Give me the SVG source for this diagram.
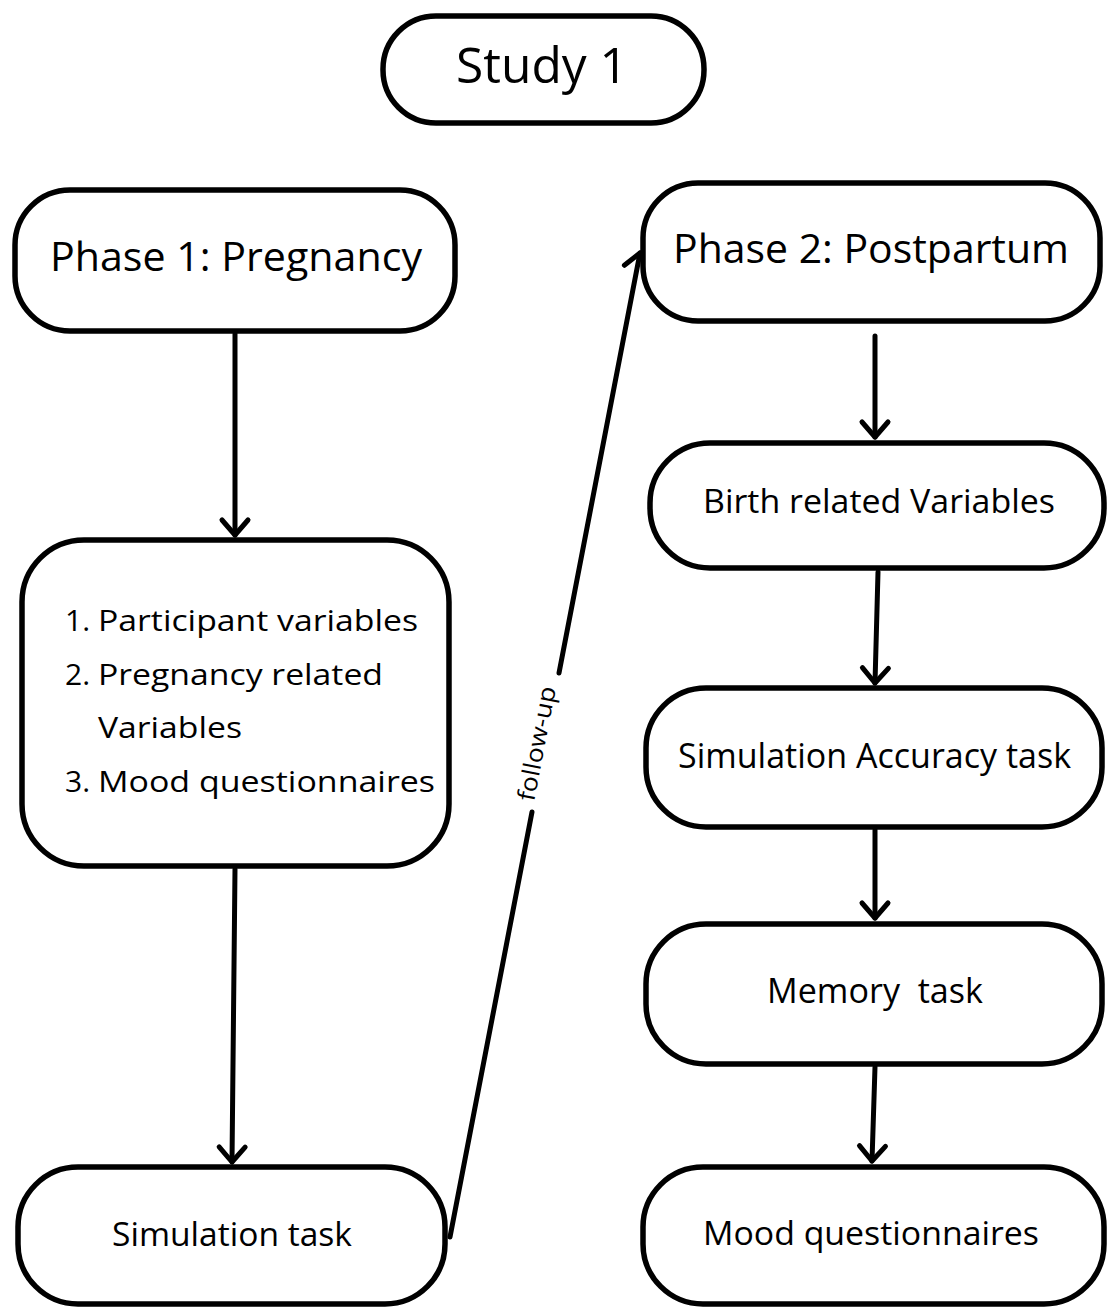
<svg xmlns="http://www.w3.org/2000/svg" width="1108" height="1309" viewBox="0 0 1108 1309">
<style>
  .box { fill: #ffffff; stroke: #000000; stroke-width: 5.5; }
  .lbl { font-family: "Open Sans", "Noto Sans", "DejaVu Sans", sans-serif; fill: #000000; }
  .c { text-anchor: middle; }
  .conn { fill: none; stroke: #000000; stroke-width: 5; stroke-linecap: round; }
</style>
<defs>
  <marker id="chev" markerUnits="userSpaceOnUse" viewBox="-20 -20 40 40" markerWidth="40" markerHeight="40" refX="0" refY="0" orient="auto" overflow="visible">
    <path d="M -15 -13 L 0 0 L -15 13" fill="none" stroke="#000000" stroke-width="5" stroke-linecap="round" stroke-linejoin="round"/>
  </marker>
</defs>
<rect width="1108" height="1309" fill="#ffffff"/>
<g id="connectors">
  <path class="conn" d="M 235 334 L 235 535" marker-end="url(#chev)"/>
  <path class="conn" d="M 235 869 L 232 1162" marker-end="url(#chev)"/>
  <path class="conn" d="M 450 1237 L 532 812"/>
  <path class="conn" d="M 559 673 L 640 253" marker-end="url(#chev)"/>
  <path class="conn" d="M 875 336 L 875 437" marker-end="url(#chev)"/>
  <path class="conn" d="M 878 572 L 875 683" marker-end="url(#chev)"/>
  <path class="conn" d="M 875 830 L 875 918" marker-end="url(#chev)"/>
  <path class="conn" d="M 875 1067 L 872 1161" marker-end="url(#chev)"/>
  <text class="lbl c" x="545" y="745" font-size="24" textLength="116" lengthAdjust="spacingAndGlyphs" transform="rotate(-79.07 545 745)">follow-up</text>
</g>
<g id="study1">
  <rect class="box" x="383" y="16" width="321" height="107" rx="53" ry="53"/>
  <text class="lbl c" x="542" y="83" font-size="50" textLength="172" lengthAdjust="spacingAndGlyphs">Study 1</text>
</g>
<g id="phase1">
  <rect class="box" x="15" y="190" width="440" height="141" rx="55" ry="55"/>
  <text class="lbl c" x="236" y="271" font-size="41" textLength="372" lengthAdjust="spacingAndGlyphs">Phase 1: Pregnancy</text>
</g>
<g id="phase1-measures">
  <rect class="box" x="22" y="540" width="427" height="326" rx="62" ry="62"/>
  <text class="lbl" font-size="30">
    <tspan x="65" y="631">1.</tspan>
    <tspan x="98" y="631" textLength="320" lengthAdjust="spacingAndGlyphs">Participant variables</tspan>
    <tspan x="65" y="685">2.</tspan>
    <tspan x="98" y="685" textLength="285" lengthAdjust="spacingAndGlyphs">Pregnancy related</tspan>
    <tspan x="98" y="738" textLength="144" lengthAdjust="spacingAndGlyphs">Variables</tspan>
    <tspan x="65" y="792">3.</tspan>
    <tspan x="98" y="792" textLength="337" lengthAdjust="spacingAndGlyphs">Mood questionnaires</tspan>
  </text>
</g>
<g id="simulation-task">
  <rect class="box" x="18" y="1167" width="427" height="137" rx="60" ry="60"/>
  <text class="lbl c" x="232" y="1246" font-size="33" textLength="240" lengthAdjust="spacingAndGlyphs">Simulation task</text>
</g>
<g id="phase2">
  <rect class="box" x="643" y="183" width="457" height="138" rx="55" ry="55"/>
  <text class="lbl c" x="871" y="263" font-size="40" textLength="396" lengthAdjust="spacingAndGlyphs">Phase 2: Postpartum</text>
</g>
<g id="birth-variables">
  <rect class="box" x="650" y="443" width="454" height="125" rx="60" ry="60"/>
  <text class="lbl c" x="879" y="513" font-size="33" textLength="352" lengthAdjust="spacingAndGlyphs">Birth related Variables</text>
</g>
<g id="simulation-accuracy">
  <rect class="box" x="646" y="688" width="456" height="139" rx="60" ry="60"/>
  <text class="lbl c" x="874.5" y="768" font-size="34" textLength="393" lengthAdjust="spacingAndGlyphs">Simulation Accuracy task</text>
</g>
<g id="memory-task">
  <rect class="box" x="646" y="924" width="456" height="140" rx="60" ry="60"/>
  <text class="lbl c" x="875" y="1003" font-size="34" textLength="216" lengthAdjust="spacingAndGlyphs" xml:space="preserve" style="white-space:pre">Memory  task</text>
</g>
<g id="mood-questionnaires">
  <rect class="box" x="643" y="1167" width="461" height="137" rx="60" ry="60"/>
  <text class="lbl c" x="871" y="1245" font-size="33" textLength="336" lengthAdjust="spacingAndGlyphs">Mood questionnaires</text>
</g>
</svg>
